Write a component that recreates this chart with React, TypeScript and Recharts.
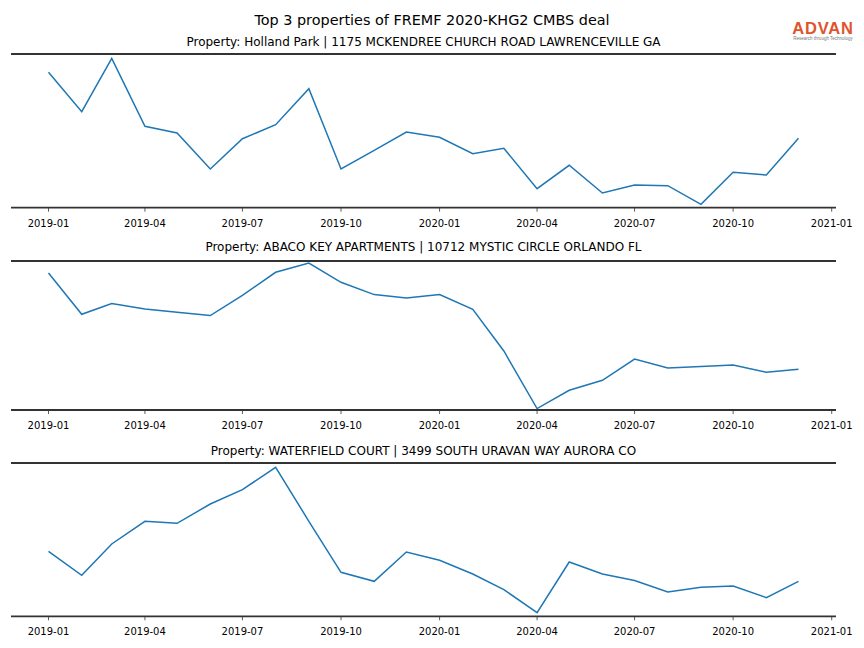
import { LineChart, Line, XAxis, YAxis, ReferenceLine } from 'recharts';

// monthly observations, first day of each month
const months = [
  '2019-01', '2019-02', '2019-03', '2019-04', '2019-05', '2019-06',
  '2019-07', '2019-08', '2019-09', '2019-10', '2019-11', '2019-12',
  '2020-01', '2020-02', '2020-03', '2020-04', '2020-05', '2020-06',
  '2020-07', '2020-08', '2020-09', '2020-10', '2020-11', '2020-12',
];

const tickLabels = [
  '2019-01', '2019-04', '2019-07', '2019-10',
  '2020-01', '2020-04', '2020-07', '2020-10', '2021-01',
];

const hollandPark = [
  135.4, 96, 149.4, 81.4, 74.7, 38.7, 69, 83, 119, 38.7, 57.4, 75.7,
  70.4, 54, 59.4, 19, 42.4, 14.7, 22.7, 22, 3.4, 35.4, 32.7, 69.4,
];

const abacoKey = [
  137, 95.7, 106.4, 101, 97.7, 94.4, 114.7, 137.7, 147, 127.7, 115.4, 112,
  115.4, 100.7, 59, 1.4, 19.7, 29.7, 51, 42, 43.4, 45, 37.7, 40.7,
];

const waterfield = [
  65, 41, 72.3, 95, 93, 112.3, 126.7, 149, 95, 44, 35, 64.3,
  56, 42.3, 26.7, 3.7, 54.3, 42.3, 35.7, 24.3, 29, 30.3, 18.7, 35,
];

const titles = [
  'Property: Holland Park | 1175 MCKENDREE CHURCH ROAD LAWRENCEVILLE GA',
  'Property: ABACO KEY APARTMENTS | 10712 MYSTIC CIRCLE ORLANDO FL',
  'Property: WATERFIELD COURT | 3499 SOUTH URAVAN WAY AURORA CO',
];

const DAY = 24 * 3600 * 1000;
const toTime = (s: string) => {
  const [y, m] = s.split('-').map(Number);
  return Date.UTC(y, m - 1, 1);
};
const fmt = (t: number) => {
  const d = new Date(t);
  return `${d.getUTCFullYear()}-${String(d.getUTCMonth() + 1).padStart(2, '0')}`;
};

const xMin = toTime(months[0]) - 35 * DAY;
const xMax = toTime(months[months.length - 1]) + 35 * DAY;
const ticks = tickLabels.map(toTime);

const font = 'DejaVu Sans, sans-serif';
const spine = '#333';

interface PanelProps {
  values: number[];
  top: number;
  bottom: number;
}

const Panel = ({ values, top, bottom }: PanelProps) => {
  const data = months.map((m, i) => ({ t: toTime(m), v: values[i] }));
  const h = bottom - top;
  return (
    <div style={{ position: 'absolute', left: 0, top: top - 10 }}>
      <LineChart
        width={864}
        height={h + 10 + 30 + 2}
        data={data}
        margin={{ top: 10, right: 28, bottom: 2, left: 11 }}
      >
        <XAxis
          dataKey="t"
          type="number"
          domain={[xMin, xMax]}
          ticks={ticks}
          tickFormatter={fmt}
          height={30}
          interval={0}
          tickSize={4}
          tickMargin={8}
          axisLine={{ stroke: spine, strokeWidth: 1.8 }}
          tickLine={{ stroke: spine, strokeWidth: 0.8 }}
          tick={{ fill: '#000', fontSize: 10, fontFamily: font }}
        />
        <YAxis hide type="number" domain={[0, h]} allowDataOverflow />
        <ReferenceLine y={h} stroke={spine} strokeWidth={1.8} />
        <Line
          type="linear"
          dataKey="v"
          stroke="#1f77b4"
          strokeWidth={1.5}
          dot={false}
          isAnimationActive={false}
        />
      </LineChart>
    </div>
  );
};

// width sets the centre: 864 for the figure, 847 for the plot area (11..836)
const textStyle = (top: number, size: number, width: number): React.CSSProperties => ({
  position: 'absolute',
  left: 0,
  width,
  top,
  textAlign: 'center',
  fontFamily: font,
  fontSize: size,
  lineHeight: 1,
  color: '#000',
  whiteSpace: 'nowrap',
});

export default function App() {
  return (
    <div
      style={{
        position: 'fixed',
        left: 0,
        top: 0,
        width: 864,
        height: 648,
        background: '#fff',
        overflow: 'hidden',
      }}
    >
      <div style={textStyle(12.5, 14.4, 864)}>Top 3 properties of FREMF 2020-KHG2 CMBS deal</div>
      <div style={textStyle(36, 12, 847)}>{titles[0]}</div>
      <div style={textStyle(241, 12, 847)}>{titles[1]}</div>
      <div style={textStyle(445, 12, 847)}>{titles[2]}</div>

      <Panel values={hollandPark} top={54} bottom={207.7} />
      <Panel values={abacoKey} top={260.7} bottom={409.7} />
      <Panel values={waterfield} top={462.7} bottom={616} />

      <div
        style={{
          position: 'absolute',
          left: 790,
          top: 20,
          width: 66,
          textAlign: 'center',
          fontFamily: 'Liberation Sans, Arial, sans-serif',
        }}
      >
        <div
          style={{
            color: '#e0532b',
            fontSize: 16.5,
            fontWeight: 'bold',
            lineHeight: '16px',
            letterSpacing: 0.8,
          }}
        >
          ADVAN
        </div>
        <div style={{ color: '#777', fontSize: 4.5, lineHeight: '6px', whiteSpace: 'nowrap' }}>
          Research through Technology
        </div>
      </div>
    </div>
  );
}
